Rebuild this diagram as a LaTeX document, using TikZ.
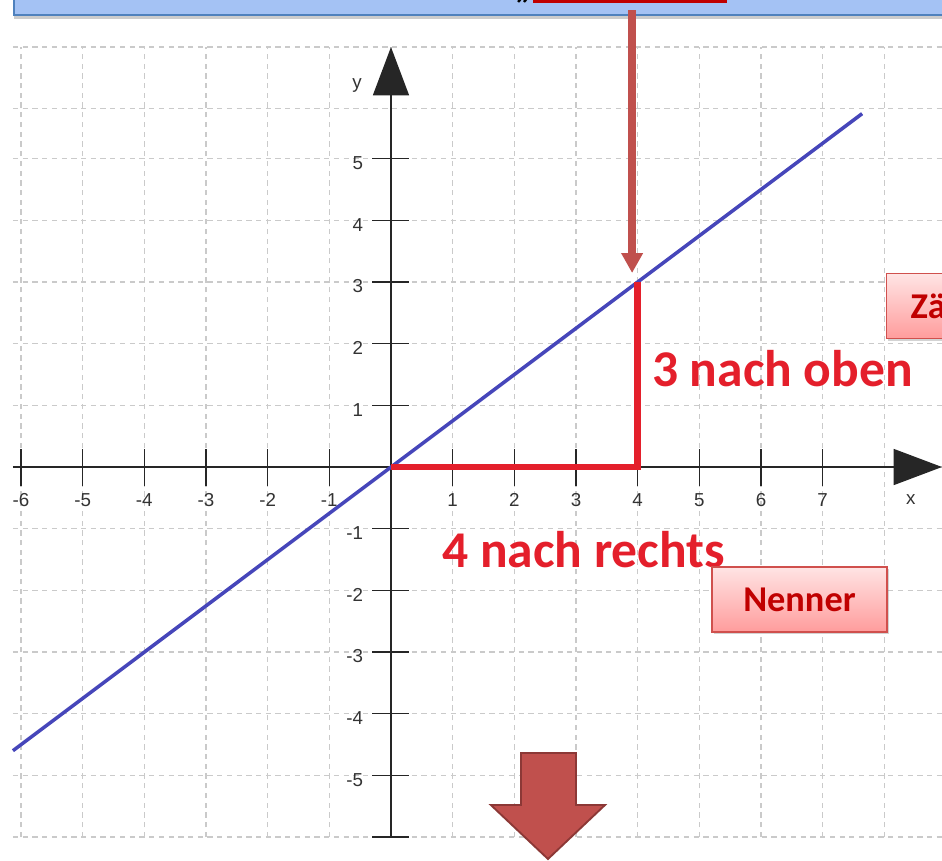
\documentclass[tikz,border=0pt]{standalone}
\usepackage{fontspec}
\setmainfont{Carlito}
\newfontfamily\axisfont{Liberation Sans}
\usetikzlibrary{arrows.meta,shadows}
\definecolor{gridgray}{HTML}{CACACA}
\definecolor{graphblue}{HTML}{4646BA}
\definecolor{legred}{HTML}{E41F2B}
\definecolor{arrowred}{HTML}{C0504D}
\definecolor{arrowdark}{HTML}{8C3836}
\definecolor{darkred}{HTML}{C00000}
\definecolor{boxborder}{HTML}{D0504D}
\definecolor{boxtop}{HTML}{FFE4E4}
\definecolor{boxbottom}{HTML}{FF9C9C}
\definecolor{titlefill}{HTML}{A4C2F4}
\definecolor{titleborder}{HTML}{4F81BD}
\begin{document}
\begin{tikzpicture}[x=1.85cm,y=1.85cm,
                    gridline/.style={gridgray,line width=1pt,dash pattern=on 4.5pt off 3.8pt},
                    axis/.style={line width=1.3pt,black!85},
                    tick/.style={line width=1.3pt,black!85},
                    ticklabel/.style={font=\axisfont\fontsize{16}{18}\selectfont,text=black!80,inner sep=0pt},
                    graph/.style={graphblue,line width=3pt},
                    leg/.style={legred,line width=5.5pt,line join=miter},
                    steplabel/.style={font=\bfseries\fontsize{44}{50}\selectfont,text=legred,inner sep=0pt},
                    notebox/.style={draw=boxborder,line width=1.2pt,top color=boxtop,bottom color=boxbottom,
                                    font=\bfseries\fontsize{31}{36}\selectfont,text=darkred,minimum height=1.95cm,
                                    drop shadow={opacity=.35,shadow xshift=.05cm,shadow yshift=-.07cm}},
                    titlebox/.style={draw=titleborder,line width=1.7pt,fill=titlefill,
                                     drop shadow={opacity=.4,shadow xshift=0cm,shadow yshift=-.12cm}},
                    pointer/.style={arrowred,line width=6.5pt,-{Triangle[width=.62cm,length=.6cm]}}]
 \path[use as bounding box] (-6.34,-6.373) rectangle (8.935,7.573);
 % grid
 \foreach \x in {-6,...,8} \draw[gridline] (\x,-6) -- (\x,6.81);
 \foreach \y in {-6,...,5} \draw[gridline] (-6.13,\y) -- (8.935,\y);
 \foreach \y in {5.81,6.81} \draw[gridline] (-6.13,\y) -- (8.935,\y);
 % axes
 \coordinate (O) at (0,0);
 \draw[axis,-{Triangle[width=1.08cm,length=1.45cm]}] (-6.13,0) -- (8.935,0);
 \draw[axis,-{Triangle[width=1.08cm,length=1.45cm]}] (0,-6) -- (0,6.81);
 \foreach \x in {-6,...,-1,1,2,...,7} {
   \draw[tick] (\x,-.3) -- (\x,.3);
   \node[ticklabel] (xt\x) at (\x,-.535) {\x};
 }
 \foreach \y in {-6,...,-1,1,2,...,5} \draw[tick] (-.3,\y) -- (.3,\y);
 \foreach \y in {-5,...,-1,1,2,...,5} \node[ticklabel,anchor=east] (yt\y) at (-.45,\y-.07) {\y};
 \node[ticklabel] (xlab) at (8.43,-.535) {x};
 \node[ticklabel] (ylab) at (-.55,6.19) {y};
 % line and steps
 \draw[graph] (-6.13,-4.6) -- (7.64,5.73);
 \coordinate (Q) at (4,0); \coordinate (P) at (4,3);
 \draw[leg] (O) -- (Q) -- (P);
 \node[steplabel,anchor=base west] (up) at (4.23,1.30) {3 nach oben};
 \node[steplabel,anchor=base west] (right) at (.83,-1.63) {4 nach rechts};
 % boxes
 \node[notebox,minimum width=5.25cm] (nenner) at (6.624,-2.148) {Nenner};
 \node[notebox,anchor=north west,text width=3cm,align=left,inner xsep=.72cm] (zaehler) at (8.027,3.146) {Zä};
 % title bar
 \node[titlebox,anchor=south west,minimum width=29cm,minimum height=1.5cm] (title) at (-6.13,7.31) {};
 \node[fill=darkred,anchor=south west,minimum width=5.83cm,minimum height=1cm,inner sep=0pt] (mark) at (2.30,7.525) {};
 \node[font=\bfseries\fontsize{31}{36}\selectfont,anchor=south,inner sep=0pt] (quote) at (2.14,7.52) {„};
 \coordinate (ptop) at (3.91,7.41); \coordinate (ptip) at (3.91,3.146);
 \draw[pointer] (ptop) -- (ptip);
 % big arrow
 \filldraw[fill=arrowred,draw=arrowdark,line width=1.6pt]
   (2.108,-4.638) -- (3.0,-4.638) -- (3.0,-5.481) -- (3.47,-5.481) -- (2.546,-6.356)
   -- (1.62,-5.481) -- (2.108,-5.481) -- cycle;
\end{tikzpicture}
\end{document}
